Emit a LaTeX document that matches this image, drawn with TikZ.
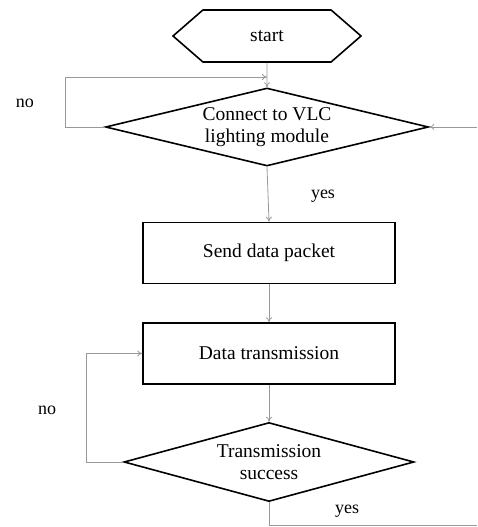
\documentclass[tikz,border=0pt]{standalone}
\usepackage{fontspec}
\setmainfont{Liberation Serif}
\usetikzlibrary{shapes.geometric, shapes.symbols, arrows.meta, positioning}

\begin{document}
\begin{tikzpicture}[x=1pt, y=1pt,
  term/.style={signal, signal to=east and west, signal pointer angle=82, draw=black, line width=1.6pt, minimum width=188pt, minimum height=52pt, inner sep=0pt, font=\fontsize{19.5}{22}\selectfont},
  proc/.style={rectangle, draw=black, line width=1.6pt, minimum width=252pt, minimum height=61pt, align=center, font=\fontsize{19.5}{22}\selectfont},
  dec/.style={diamond, draw=black, line width=1.6pt, inner sep=0pt, align=center, font=\fontsize{19.5}{22}\selectfont},
  ln/.style={gray!80, line width=0.8pt},
  fl/.style={-{To[length=5pt, width=6pt]}, gray!80, line width=0.8pt},
  lbl/.style={font=\fontsize{18}{20}\selectfont, inner sep=1pt}
]
  \useasboundingbox (0,0) rectangle (477,527);

  \node[term] (start) at (267,491)  {start};
  \node[dec, minimum width=323pt, minimum height=78pt, aspect=4.1] (conn) at (267,400) {Connect to VLC\\lighting module};
  \node[proc]  (send)  at (269,274)   {Send data packet};
  \node[proc]  (trans) at (269,173.5) {Data transmission};
  \node[dec, minimum width=290pt, minimum height=79pt, aspect=3.7] (succ) at (269,65) {Transmission\\success};

  \coordinate (j1)   at (267,450);
  \coordinate (n1)   at (65,450);
  \coordinate (rin)  at (477,400);
  \coordinate (n2)   at (86,173.5);
  \coordinate (yout) at (477,1.5);

  \draw[fl] (start) -- (conn);
  \draw[fl] (conn.west) -| (n1) -- (j1);
  \draw[fl] (rin) -- (conn.east);
  \draw[fl] (conn.south) -- (send.north);
  \draw[fl] (send) -- (trans);
  \draw[fl] (trans) -- (succ);
  \draw[fl] (succ.west) -| (n2) -- (trans.west);
  \draw[ln] (succ.south) |- (yout);

  \node[lbl] (no1)  at (25,424)  {no};
  \node[lbl] (yes1) at (323,331) {yes};
  \node[lbl] (no2)  at (47,117)  {no};
  \node[lbl] (yes2) at (347,16)  {yes};
\end{tikzpicture}
\end{document}
